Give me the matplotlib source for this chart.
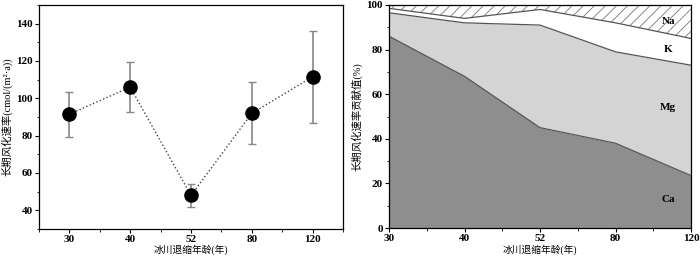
import numpy as np
import matplotlib
matplotlib.use("Agg")
from matplotlib import pyplot as plt
from matplotlib.ticker import MultipleLocator, FixedLocator

plt.rcParams['font.family'] = ['Liberation Serif', 'Noto Sans CJK SC', 'DejaVu Sans']
plt.rcParams['font.weight'] = 'bold'
plt.rcParams['hatch.linewidth'] = 0.6

ages = ["30", "40", "52", "80", "120"]
rate = [91.5, 106, 48, 92, 111.5]
rate_err = [12, 13.5, 6, 16.5, 24.5]

ca = [86, 68, 45, 38, 23.5]
mg = [10.5, 24, 46, 41, 49.5]
k = [2, 2, 7, 13, 12]
na = [1.5, 6, 2, 8, 15]

fig = plt.figure(figsize=(7, 2.56), dpi=100)
ax1 = fig.add_axes([39 / 700, 27 / 256, 304 / 700, 224 / 256])
ax2 = fig.add_axes([389 / 700, 28 / 256, 302 / 700, 223 / 256])

x = np.arange(1, len(ages) + 1)
ax1.errorbar(x, rate, yerr=rate_err, fmt='o', color='black', ms=9.5,
             ecolor='#888888', elinewidth=1.2, capsize=3, capthick=1.0, zorder=3)
ax1.plot(x, rate, ls=':', color='#444444', lw=1.0, zorder=2)
ax1.set_xlim(0.5, 5.5)
ax1.set_ylim(30, 150)
ax1.set_xticks(x)
ax1.set_xticklabels(ages)
ax1.xaxis.set_minor_locator(FixedLocator(np.arange(0.5, 5.6, 0.5)))
ax1.yaxis.set_major_locator(FixedLocator([40, 60, 80, 100, 120, 140]))
ax1.yaxis.set_minor_locator(MultipleLocator(10))
ax1.set_ylabel("长期风化速率(cmol/(m²·a))", fontsize=7.5, labelpad=3)
ax1.set_xlabel("冰川退缩年龄(年)", fontsize=7, va='center')
ax1.xaxis.set_label_coords(0.5, -21 / 224)

xs = np.arange(len(ages))
cum1 = np.array(ca)
cum2 = cum1 + np.array(mg)
cum3 = cum2 + np.array(k)
cum4 = cum3 + np.array(na)
ax2.fill_between(xs, 0, cum1, color='#8e8e8e', lw=0)
ax2.fill_between(xs, cum1, cum2, color='#d4d4d4', lw=0)
ax2.fill_between(xs, cum2, cum3, color='white', lw=0)
ax2.fill_between(xs, cum3, cum4, facecolor='white', edgecolor='#777777', hatch='///', lw=0)
for c in (cum1, cum2, cum3):
    ax2.plot(xs, c, color='#555555', lw=0.9)
ax2.set_xlim(0, 4)
ax2.set_ylim(0, 100)
ax2.set_xticks(xs)
ax2.set_xticklabels(ages)
ax2.xaxis.set_minor_locator(FixedLocator(np.arange(0, 4.01, 0.5)))
ax2.yaxis.set_major_locator(MultipleLocator(20))
ax2.yaxis.set_minor_locator(MultipleLocator(10))
ax2.set_ylabel("长期风化速率贡献值(%)", fontsize=7.5, labelpad=3)
ax2.set_xlabel("冰川退缩年龄(年)", fontsize=7, va='center')
ax2.xaxis.set_label_coords(0.5, -22 / 223)
for name, yy in (("Na", 92.5), ("K", 80), ("Mg", 54), ("Ca", 13)):
    ax2.text(3.7, yy, name, fontsize=8, ha='center', va='center')

for ax in (ax1, ax2):
    ax.tick_params(which='major', direction='out', length=3, width=0.8, labelsize=8, pad=1.5)
    ax.tick_params(which='minor', direction='out', length=1.8, width=0.6)
    for s in ax.spines.values():
        s.set_linewidth(0.9)

fig.savefig("out.png", dpi=100)
